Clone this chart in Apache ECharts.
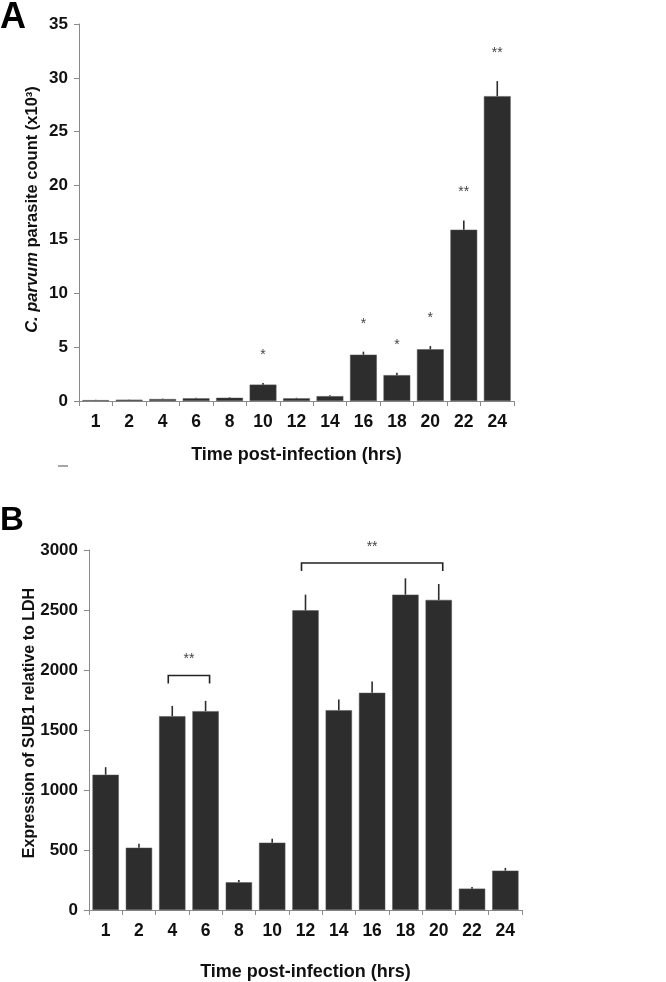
<!DOCTYPE html>
<html>
<head>
<meta charset="utf-8">
<script src="https://cdn.jsdelivr.net/npm/echarts@6/dist/echarts.min.js"></script>
<style>html,body{margin:0;padding:0;background:#fff;}#c{width:666px;height:982px;}</style>
</head>
<body>
<div id="c"></div>
<script>
// ---- Data ----
const timeLabels = ['1','2','4','6','8','10','12','14','16','18','20','22','24'];
// Panel A: C. parvum parasite count (x10^3)
const countA = [0.08, 0.12, 0.18, 0.25, 0.3, 1.52, 0.25, 0.45, 4.3, 2.4, 4.8, 15.9, 28.3];
const errA   = [0.03, 0.03, 0.04, 0.05, 0.05, 0.16, 0.05, 0.08, 0.28, 0.22, 0.3, 0.85, 1.4];
const sigA   = ['', '', '', '', '', '*', '', '', '*', '*', '*', '**', '**'];
const ticksA = [0, 5, 10, 15, 20, 25, 30, 35];
// Panel B: Expression of SUB1 relative to LDH
const exprB = [1127, 519, 1615, 1657, 231, 561, 2497, 1665, 1810, 2628, 2584, 178, 328];
const errB  = [63, 34, 86, 86, 19, 33, 131, 89, 94, 136, 133, 14, 22];
const ticksB = [0, 500, 1000, 1500, 2000, 2500, 3000];
// Significance brackets for panel B
const bracketFrom  = ['4', '12'];
const bracketTo    = ['6', '20'];
const bracketLevel = [1954, 2892];
const bracketLabel = ['**', '**'];

// ---- Styles ----
const BAR = '#2d2d2d';
const AXIS = '#8a8a8a';
const TICKFONT = '"Liberation Sans Narrow", "Liberation Sans", Arial, sans-serif';
const TITLEFONT = '"Liberation Sans", Arial, sans-serif';

const chart = echarts.init(document.getElementById('c'), null, {renderer: 'canvas'});

function xAxisCfg(gridIndex, gap) {
  return {
    type: 'category', gridIndex, data: timeLabels,
    axisLine: {lineStyle: {color: AXIS, width: 1}},
    axisTick: {show: true, length: 5, lineStyle: {color: AXIS}, alignWithLabel: false},
    axisLabel: {color: '#111', fontFamily: TICKFONT, fontWeight: 'bold', fontSize: 17.5, margin: 12},
    name: 'Time post-infection (hrs)', nameLocation: 'middle', nameGap: gap, nameMoveOverlap: false,
    nameTextStyle: {color: '#111', fontFamily: TICKFONT, fontWeight: 'bold', fontSize: 18}
  };
}
function yAxisCfg(gridIndex, max, interval, name, gap, pad, fs) {
  return {
    type: 'value', gridIndex, min: 0, max, interval,
    axisLine: {show: true, lineStyle: {color: AXIS, width: 1}},
    axisTick: {show: true, length: 5, lineStyle: {color: AXIS}},
    splitLine: {show: false},
    axisLabel: {color: '#111', fontFamily: TICKFONT, fontWeight: 'bold', fontSize: 17, margin: 11,
      formatter: v => String(v)},
    name, nameLocation: 'middle', nameGap: gap, nameRotate: 90, nameMoveOverlap: false,
    nameTextStyle: {color: '#111', fontFamily: TITLEFONT, fontWeight: 'bold', fontSize: fs, padding: pad,
      rich: {i: {fontStyle: 'italic', fontWeight: 'bold', fontFamily: TITLEFONT, fontSize: fs, color: '#111'}}}
  };
}

function errRender(vals, errs, sig) {
  return function (params, api) {
    const i = params.dataIndex;
    const p0 = api.coord([i, vals[i]]);
    const p1 = api.coord([i, vals[i] + errs[i]]);
    const children = [{
      type: 'line', shape: {x1: p0[0], y1: p0[1], x2: p1[0], y2: p1[1]},
      style: {stroke: BAR, lineWidth: 1.6}
    }];
    if (sig && sig[i]) {
      children.push({
        type: 'text', x: p1[0], y: p1[1] - 28,
        style: {text: sig[i], fill: '#444', fontSize: 14, fontFamily: TITLEFONT, align: 'center', verticalAlign: 'middle'}
      });
    }
    return {type: 'group', children};
  };
}

function bracketRender(params, api) {
  const i = params.dataIndex;
  const a = api.coord([timeLabels.indexOf(bracketFrom[i]), bracketLevel[i]]);
  const b = api.coord([timeLabels.indexOf(bracketTo[i]), bracketLevel[i]]);
  const drop = 8;
  return {
    type: 'group', children: [
      {type: 'polyline', shape: {points: [[a[0] - 4, a[1] + drop], [a[0] - 4, a[1]], [b[0] + 4, b[1]], [b[0] + 4, b[1] + drop]]},
        style: {stroke: '#222', lineWidth: 1.6, fill: null}},
      {type: 'text', x: (a[0] + b[0]) / 2, y: a[1] - 16,
        style: {text: bracketLabel[i], fill: '#444', fontSize: 14, fontFamily: TITLEFONT, align: 'center', verticalAlign: 'middle'}}
    ]
  };
}

const option = {
  animation: false,
  backgroundColor: '#fff',
  grid: [
    {left: 79, top: 24, width: 435, height: 377},
    {left: 89, top: 550, width: 433, height: 360}
  ],
  xAxis: [xAxisCfg(0, 45), xAxisCfg(1, 53)],
  yAxis: [
    yAxisCfg(0, ticksA[ticksA.length - 1], ticksA[1] - ticksA[0], '{i|C. parvum} parasite count (x10³)', 38, [0, 0, 0, 6], 16.5),
    yAxisCfg(1, ticksB[ticksB.length - 1], ticksB[1] - ticksB[0], 'Expression of SUB1 relative to LDH', 51, [0, 0, 0, 14], 16)
  ],
  series: [
    {type: 'bar', xAxisIndex: 0, yAxisIndex: 0, data: countA, barCategoryGap: '20%',
      itemStyle: {color: BAR, borderColor: '#555', borderWidth: 0.5}, z: 2},
    {type: 'custom', xAxisIndex: 0, yAxisIndex: 0, data: countA.map((v, i) => [i, v]),
      renderItem: errRender(countA, errA, sigA), z: 3, silent: true},
    {type: 'bar', xAxisIndex: 1, yAxisIndex: 1, data: exprB, barCategoryGap: '21%',
      itemStyle: {color: BAR, borderColor: '#555', borderWidth: 0.5}, z: 2},
    {type: 'custom', xAxisIndex: 1, yAxisIndex: 1, data: exprB.map((v, i) => [i, v]),
      renderItem: errRender(exprB, errB, null), z: 3, silent: true},
    {type: 'custom', xAxisIndex: 1, yAxisIndex: 1, data: bracketLevel.map((v, i) => [i, v]),
      renderItem: bracketRender, z: 3, silent: true}
  ],
  graphic: [
    {type: 'text', left: 0, top: 0, style: {text: 'A', fontSize: 36, fontWeight: 'bold', fontFamily: TITLEFONT, fill: '#000'}},
    {type: 'text', left: 0, top: 504, style: {text: 'B', fontSize: 33, fontWeight: 'bold', fontFamily: TITLEFONT, fill: '#000'}},
    {type: 'line', shape: {x1: 58, y1: 466, x2: 68, y2: 466}, style: {stroke: '#888', lineWidth: 1.5}}
  ]
};
chart.setOption(option);
</script>
</body>
</html>
